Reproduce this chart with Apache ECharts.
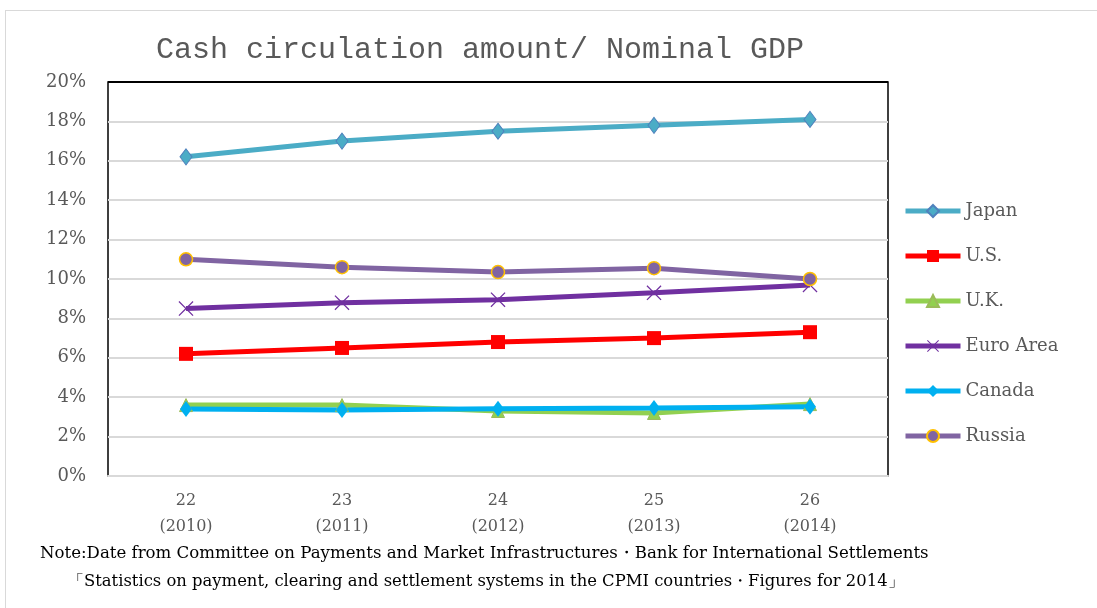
<!DOCTYPE html>
<html>
<head>
<meta charset="utf-8">
<script src="https://cdn.jsdelivr.net/npm/echarts@6/dist/echarts.min.js"></script>
<style>
    html, body { margin: 0; padding: 0; background: #fff; }
    #frame { position: absolute; left: 5px; top: 10px; width: 1200px; height: 700px; border: 1px solid #d9d9d9; }
    #chart { width: 1097px; height: 608px; position: absolute; left: 0; top: 0; }
</style>
</head>
<body>
<div id="frame"></div>
<div id="chart"></div>
<script>
// categories (fiscal year / calendar year)
var categories = ['22\n(2010)', '23\n(2011)', '24\n(2012)', '25\n(2013)', '26\n(2014)'];
// ratio of cash in circulation to nominal GDP, %
var japan  = [16.2, 17.0, 17.5, 17.8, 18.1];
var us     = [6.2, 6.5, 6.8, 7.0, 7.3];
var uk     = [3.6, 3.6, 3.3, 3.2, 3.65];
var euro   = [8.5, 8.8, 8.95, 9.3, 9.7];
var canada = [3.4, 3.35, 3.42, 3.45, 3.52];
var russia = [11.0, 10.6, 10.35, 10.55, 10.0];

var serif = '"DejaVu Serif", "Liberation Serif", serif';
var crossPath = 'path://M0,0.6L0.6,0L5,4.4L9.4,0L10,0.6L5.6,5L10,9.4L9.4,10L5,5.6L0.6,10L0,9.4L4.4,5Z';

// gridline colours, bottom to top: the top one is the black frame edge
var gridColors = [];
for (var i = 0; i < 10; i++) gridColors.push('#d9d9d9');
gridColors.push('#000');

var chart = echarts.init(document.getElementById('chart'));

function line(name, data, color, symbol, size, itemStyle) {
    return {
        name: name,
        type: 'line',
        data: data,
        symbol: symbol,
        symbolSize: size,
        lineStyle: { color: color, width: 5 },
        itemStyle: itemStyle || { color: color },
        emphasis: { disabled: true }
    };
}

var option = {
    animation: false,
    title: {
        text: 'Cash circulation amount/ Nominal GDP',
        left: 475,
        top: 30,
        textAlign: 'center',
        textStyle: {
            fontFamily: '"Liberation Mono", "DejaVu Sans Mono", monospace',
            fontWeight: 'normal',
            fontSize: 30,
            color: '#595959'
        }
    },
    grid: {
        left: 108,
        top: 82,
        width: 780,
        height: 394,
        show: true,
        borderColor: '#000',
        borderWidth: 1.5,
        containLabel: false
    },
    legend: {
        orient: 'vertical',
        left: 898,
        top: 197,
        itemWidth: 55,
        itemHeight: 15,
        itemGap: 27,
        lineStyle: { width: 5 },
        textStyle: { fontFamily: serif, fontSize: 18, color: '#595959' },
        data: ['Japan', 'U.S.', 'U.K.', 'Euro Area', 'Canada', 'Russia']
    },
    xAxis: {
        type: 'category',
        data: categories,
        boundaryGap: true,
        axisLine: { lineStyle: { color: '#d9d9d9', width: 2 } },
        axisTick: { show: false },
        axisLabel: {
            fontFamily: serif,
            fontSize: 16,
            color: '#595959',
            margin: 12,
            lineHeight: 26
        }
    },
    yAxis: {
        type: 'value',
        min: 0,
        max: 20,
        interval: 2,
        axisLine: { show: false },
        axisTick: { show: false },
        splitLine: { lineStyle: { color: gridColors, width: 2 } },
        axisLabel: {
            fontFamily: serif,
            fontSize: 18,
            color: '#595959',
            margin: 22,
            formatter: '{value}%'
        }
    },
    series: [
        line('Japan', japan, '#4bacc6', 'diamond', [12, 16],
            { color: '#4bacc6', borderColor: '#4f81bd', borderWidth: 1 }),
        line('U.S.', us, '#ff0000', 'rect', 14),
        line('U.K.', uk, '#92d050', 'triangle', 13,
            { color: '#92d050', borderColor: '#9bbb59', borderWidth: 1 }),
        line('Euro Area', euro, '#7030a0', crossPath, 15),
        line('Canada', canada, '#00b0f0', 'diamond', [12, 16]),
        line('Russia', russia, '#8064a2', 'circle', 13,
            { color: '#8064a2', borderColor: '#ffc000', borderWidth: 1.5 })
    ],
    graphic: [{
        type: 'text',
        left: 40,
        top: 545,
        style: {
            text: 'Note:Date from Committee on Payments and Market Infrastructures\u30fbBank for International Settlements',
            font: '16.6px ' + serif,
            fill: '#000'
        }
    }, {
        type: 'text',
        left: 68,
        top: 574,
        style: {
            text: '\u300cStatistics on payment, clearing and settlement systems in the CPMI countries\u30fbFigures for 2014\u300d',
            font: '16.4px ' + serif,
            fill: '#000'
        }
    }]
};
chart.setOption(option);
</script>
</body>
</html>
